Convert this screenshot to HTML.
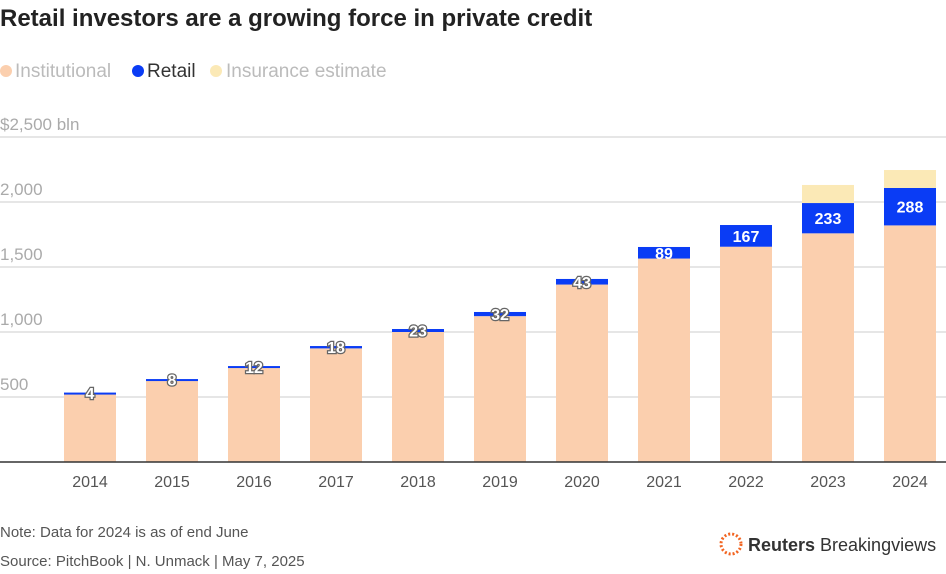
<!DOCTYPE html>
<html><head><meta charset="utf-8"><style>
body{margin:0;background:#fff;width:946px;height:569px;overflow:hidden;font-family:"Liberation Sans",sans-serif}
</style></head><body>
<svg width="946" height="569">
<text x="0" y="26" font-size="24" font-weight="bold" fill="#222">Retail investors are a growing force in private credit</text>
<g font-size="19">
<circle cx="6" cy="71" r="6" fill="#fbcfae"/>
<text x="15" y="77" fill="#bbb">Institutional</text>
<circle cx="138" cy="71" r="6" fill="#0a3cf5"/>
<text x="147" y="77" fill="#333">Retail</text>
<circle cx="216" cy="71" r="6" fill="#fbe9b6"/>
<text x="226" y="77" fill="#bbb">Insurance estimate</text>
</g>
<g id="grid"></g><g id="bars"></g>
<text x="0" y="537" font-size="15" fill="#555">Note: Data for 2024 is as of end June</text>
<text x="0" y="566" font-size="15" fill="#555">Source: PitchBook | N. Unmack | May 7, 2025</text>
<g>
<circle cx="731" cy="544" r="10" fill="none" stroke="#f26522" stroke-width="3" stroke-dasharray="2 2"/>
<text x="748" y="551" font-size="18" fill="#333"><tspan font-weight="bold">Reuters</tspan> Breakingviews</text>
</g>
</svg>
<script>
const years=["2014","2015","2016","2017","2018","2019","2020","2021","2022","2023","2024"];
const institutional=[530,630,726,874,1000,1122,1365,1565,1656,1759,1820];
const retail=[4,8,12,18,23,32,43,89,167,233,288];
const insurance=[0,0,0,0,0,0,0,0,0,139,138];
const ticks=[500,1000,1500,2000,2500];
const NS="http://www.w3.org/2000/svg";
const y=v=>462-v*0.13, x=i=>90+i*82;
function mk(t,a,p){const e=document.createElementNS(NS,t);for(const k in a)e.setAttribute(k,a[k]);p.appendChild(e);return e;}
const g=document.getElementById('grid'),b=document.getElementById('bars');
ticks.forEach(t=>{
 const l=mk('line',{x1:0,x2:946,y1:y(t),y2:y(t),stroke:'#ccc','stroke-width':1},g);
 
 
 const s=mk('text',{x:0,y:y(t)-7,'font-size':17,fill:'#aaa'},g);
 s.textContent=t===2500?'$2,500 bln':t.toLocaleString('en-US');
 
 
});
years.forEach((yr,i)=>{
 const w=52,cx=x(i);
 const r1=mk('rect',{x:cx-w/2,y:y(institutional[i]),width:w,height:institutional[i]*0.13,fill:'#fbcfae'},b);
 
 
 const top=institutional[i]+retail[i];
 const r2=mk('rect',{x:cx-w/2,y:y(top),width:w,height:Math.max(2,retail[i]*0.13),fill:'#0a3cf5'},b);
 
 
 if(insurance[i]>0){
  const r3=mk('rect',{x:cx-w/2,y:y(top+insurance[i]),width:w,height:insurance[i]*0.13,fill:'#fbe9b6'},b);
  
  
 }
 const big=retail[i]>80;
 const ly=y(institutional[i]+retail[i]/2)+6;
 const t=mk('text',{x:cx,y:ly,'text-anchor':'middle','font-size':16,'font-weight':'bold',fill:'#fff'},b);
 if(!big){t.setAttribute('stroke','#666');t.setAttribute('stroke-width','2.5');t.setAttribute('paint-order','stroke');}
 t.textContent=retail[i];
 
 
 const xl=mk('text',{x:cx,y:487,'text-anchor':'middle','font-size':16,fill:'#555'},b);
 xl.textContent=yr;
 
 
});
const base=mk('line',{x1:0,x2:946,y1:462,y2:462,stroke:'#333','stroke-width':1.5},b);


</script>
</body></html>
